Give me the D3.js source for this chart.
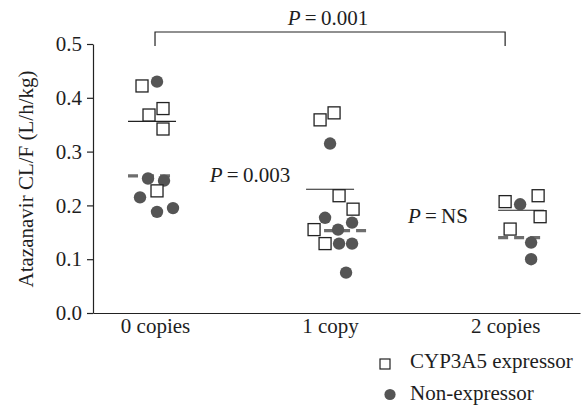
<!DOCTYPE html>
<html>
<head>
<meta charset="utf-8">
<script src="https://cdn.jsdelivr.net/npm/d3@7"></script>
<style>
  body { margin: 0; background: #fff; }
  svg text { font-family: "Liberation Serif", "Times New Roman", serif; font-size: 21px; fill: #1e1e1e; }
</style>
</head>
<body>
<div id="chart"></div>
<script>
// data
const categories = ["0 copies", "1 copy", "2 copies"];
const expressor = [
  [0.422, 0.368, 0.380, 0.342, 0.227],
  [0.359, 0.372, 0.218, 0.193, 0.155, 0.129],
  [0.207, 0.218, 0.179, 0.156]
];
const nonExpressor = [
  [0.430, 0.250, 0.246, 0.215, 0.188, 0.195],
  [0.315, 0.177, 0.168, 0.155, 0.129, 0.129, 0.075],
  [0.202, 0.131, 0.100]
];
const expressorMean = [0.356, 0.230, 0.191];
const nonExpressorMean = [0.255, 0.153, 0.140];
const yTicks = [0, 0.1, 0.2, 0.3, 0.4, 0.5];
const pValues = ["0.001", "0.003", "NS"];
const legendLabels = ["CYP3A5 expressor", "Non-expressor"];

// layout only: horizontal scatter (px) around each category so dots don't overlap
const expressorJitter = [[-13, -6, 8, 8, 2], [-10, 4, 9, 23, -16, -5], [0, 33, 35, 5]];
const nonExpressorJitter = [[2, -7, 9, -15, 2, 18], [0, -5, 22, 8, 9, 22, 16], [15, 26, 26]];
const solidOffset = [-3, 0, 16], solidHalf = [24, 24, 23];
const dashOffset = [-3, 7, 16], dashHalf = [24, 29, 23];

const width = 583, height = 408;
const x0 = 93, x1 = 580, yTop = 44, yBottom = 313;

const x = d3.scalePoint().domain(categories).range([x0, x1]).padding(0.391).align(0.453);
const y = d3.scaleLinear().domain([0, 0.5]).range([yBottom, yTop]);

const svg = d3.select("#chart").append("svg")
  .attr("width", width)
  .attr("height", height)
  .attr("viewBox", [0, 0, width, height]);

// axes
const yAxis = svg.append("g")
  .attr("transform", `translate(${x0},0)`)
  .call(d3.axisLeft(y).tickValues(yTicks).tickFormat(d3.format(".1f")).tickSize(6).tickSizeOuter(0).tickPadding(5));
yAxis.selectAll("text").style("font-size", "21px");

const xAxis = svg.append("g")
  .attr("transform", `translate(0,${yBottom})`)
  .call(d3.axisBottom(x).tickSize(0).tickSizeOuter(0).tickPadding(5));
xAxis.selectAll("text").style("font-size", "21px");

svg.selectAll(".domain, .tick line").attr("stroke", "#222").attr("stroke-width", 1.2);

svg.append("text")
  .attr("transform", `translate(33,179) rotate(-90)`)
  .attr("text-anchor", "middle")
  .text("Atazanavir CL/F (L/h/kg)");

// mean lines
const groups = categories.map((c, i) => ({ c, i }));
svg.append("g").selectAll("line")
  .data(groups)
  .join("line")
  .attr("x1", d => x(d.c) + dashOffset[d.i] - dashHalf[d.i])
  .attr("x2", d => x(d.c) + dashOffset[d.i] + dashHalf[d.i])
  .attr("y1", d => y(nonExpressorMean[d.i]))
  .attr("y2", d => y(nonExpressorMean[d.i]))
  .attr("stroke", "#6e6e6e")
  .attr("stroke-width", 3.2)
  .attr("stroke-dasharray", "10,6");

svg.append("g").selectAll("line")
  .data(groups)
  .join("line")
  .attr("x1", d => x(d.c) + solidOffset[d.i] - solidHalf[d.i])
  .attr("x2", d => x(d.c) + solidOffset[d.i] + solidHalf[d.i])
  .attr("y1", d => y(expressorMean[d.i]))
  .attr("y2", d => y(expressorMean[d.i]))
  .attr("stroke", "#222")
  .attr("stroke-width", 1.2);

// points
const circles = nonExpressor.flatMap((vals, i) => vals.map((v, j) => ({ c: categories[i], v, dx: nonExpressorJitter[i][j] })));
const squares = expressor.flatMap((vals, i) => vals.map((v, j) => ({ c: categories[i], v, dx: expressorJitter[i][j] })));

svg.append("g").selectAll("circle")
  .data(circles)
  .join("circle")
  .attr("cx", d => x(d.c) + d.dx)
  .attr("cy", d => y(d.v))
  .attr("r", 6.2)
  .attr("fill", "#555");

const sq = 12;
svg.append("g").selectAll("rect")
  .data(squares)
  .join("rect")
  .attr("x", d => x(d.c) + d.dx - sq / 2)
  .attr("y", d => y(d.v) - sq / 2)
  .attr("width", sq)
  .attr("height", sq)
  .attr("fill", "#fff")
  .attr("stroke", "#222")
  .attr("stroke-width", 1.3);

// significance labels
const bracketY = 32;
svg.append("path")
  .attr("d", `M${x(categories[0])},46V${bracketY}H${x(categories[2])}V46`)
  .attr("fill", "none")
  .attr("stroke", "#222")
  .attr("stroke-width", 1.2);

const pPos = [[328, 25], [250, 182], [438, 223]];
pValues.forEach((p, i) => {
  const t = svg.append("text")
    .attr("x", pPos[i][0])
    .attr("y", pPos[i][1])
    .attr("text-anchor", "middle");
  t.append("tspan").style("font-style", "italic").text("P");
  t.append("tspan").text("\u2009=\u2009" + p);
});

// legend
const legend = svg.append("g");
legend.append("rect")
  .attr("x", 380).attr("y", 359).attr("width", 10).attr("height", 10)
  .attr("fill", "#fff").attr("stroke", "#222").attr("stroke-width", 1.2);
legend.append("circle")
  .attr("cx", 390).attr("cy", 394.5).attr("r", 5.6).attr("fill", "#555");
legend.selectAll("text")
  .data(legendLabels)
  .join("text")
  .attr("x", 410)
  .attr("y", (d, i) => 368 + i * 32)
  .text(d => d);
</script>
</body>
</html>
